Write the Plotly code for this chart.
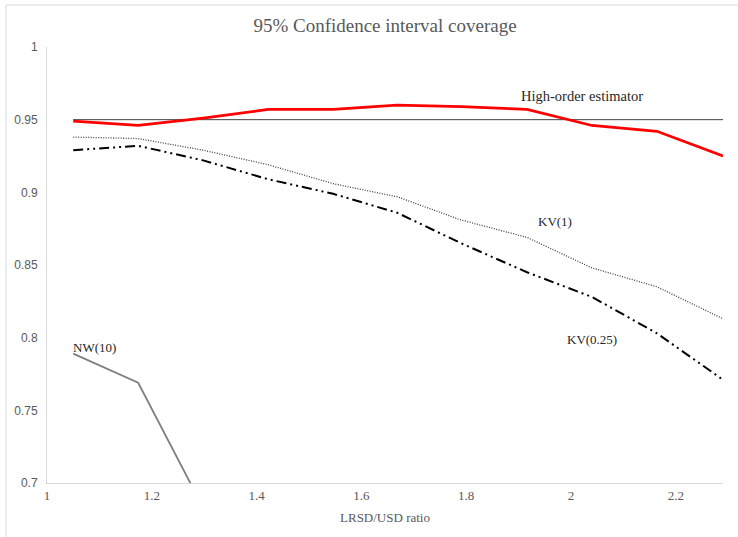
import plotly.graph_objects as go

# Data
ratio = [1.05, 1.174, 1.298, 1.422, 1.546, 1.668, 1.79, 1.916, 2.04, 2.164, 2.29]
high_order = [0.949, 0.946, 0.951, 0.957, 0.957, 0.960, 0.959, 0.957, 0.946, 0.942, 0.925]
nominal = [0.95] * 11
kv1 = [0.938, 0.937, 0.929, 0.919, 0.906, 0.897, 0.881, 0.869, 0.848, 0.835, 0.813]
kv025 = [0.929, 0.932, 0.922, 0.909, 0.899, 0.886, 0.865, 0.845, 0.828, 0.803, 0.771]
nw_x = [1.05, 1.174, 1.298]
nw10 = [0.789, 0.769, 0.683]

x_ticks = [1, 1.2, 1.4, 1.6, 1.8, 2, 2.2]
x_tick_labels = ["1", "1.2", "1.4", "1.6", "1.8", "2", "2.2"]
y_ticks = [0.7, 0.75, 0.8, 0.85, 0.9, 0.95, 1]
y_tick_labels = ["0.7", "0.75", "0.8", "0.85", "0.9", "0.95", "1"]

SERIF = "Liberation Serif, Times New Roman, serif"
SANS = "Liberation Sans, Arial, sans-serif"

fig = go.Figure()
fig.add_trace(go.Scatter(x=ratio, y=nominal, mode="lines",
                         line=dict(color="#404040", width=1), hoverinfo="skip"))
fig.add_trace(go.Scatter(x=ratio, y=kv1, mode="lines",
                         line=dict(color="#404040", width=1.3, dash="1px,1.5px")))
fig.add_trace(go.Scatter(x=ratio, y=kv025, mode="lines",
                         line=dict(color="#000000", width=2, dash="10px,4px,2px,4px,2px,4px")))
fig.add_trace(go.Scatter(x=nw_x, y=nw10, mode="lines",
                         line=dict(color="#808080", width=1.8)))
fig.add_trace(go.Scatter(x=ratio, y=high_order, mode="lines",
                         line=dict(color="#ff0000", width=2.75)))

annotations = [
    dict(x=2.02, y=0.966, text="High-order estimator", size=14.5),
    dict(x=1.97, y=0.8798, text="KV(1)", size=13),
    dict(x=2.04, y=0.799, text="KV(0.25)", size=13),
    dict(x=1.09, y=0.7935, text="NW(10)", size=13),
]
for a in annotations:
    fig.add_annotation(x=a["x"], y=a["y"], text=a["text"], showarrow=False,
                       font=dict(family=SERIF, size=a["size"], color="#262626"),
                       xref="x", yref="y")

W, H = 738, 537
L, R, T, B = 47, 15, 47, 54
pw, ph = W - L - R, H - T - B
# chart area border (light gray), left/top visible
fig.add_shape(type="rect", xref="paper", yref="paper",
              x0=(6 - L) / pw, x1=(745 - L) / pw,
              y0=1 - (545 - T) / ph, y1=1 - (5 - T) / ph,
              line=dict(color="#d9d9d9", width=1), fillcolor="rgba(0,0,0,0)", layer="below")

fig.update_layout(
    width=W, height=H,
    margin=dict(l=L, r=R, t=T, b=B),
    paper_bgcolor="white", plot_bgcolor="white",
    showlegend=False,
    title=dict(text="95% Confidence interval coverage", x=0.5, xref="paper",
               y=1 - 25 / H, yanchor="middle",
               font=dict(family=SERIF, size=19, color="#595959")),
    xaxis=dict(range=[1, 2.29], tickvals=x_ticks, ticktext=x_tick_labels,
               showgrid=False, zeroline=False, showline=True, linecolor="#d9d9d9",
               linewidth=1, ticks="", tickfont=dict(family=SERIF, size=13, color="#595959"),
               title=dict(text="LRSD/USD ratio", font=dict(family=SERIF, size=13, color="#595959"),
                          standoff=11)),
    yaxis=dict(range=[0.7, 1], tickvals=y_ticks, ticktext=y_tick_labels,
               showgrid=False, zeroline=False, showline=True, linecolor="#d9d9d9",
               linewidth=1, ticks="", ticklabelstandoff=6,
               tickfont=dict(family=SANS, size=12, color="#595959")),
)

fig.write_html("out.html")
